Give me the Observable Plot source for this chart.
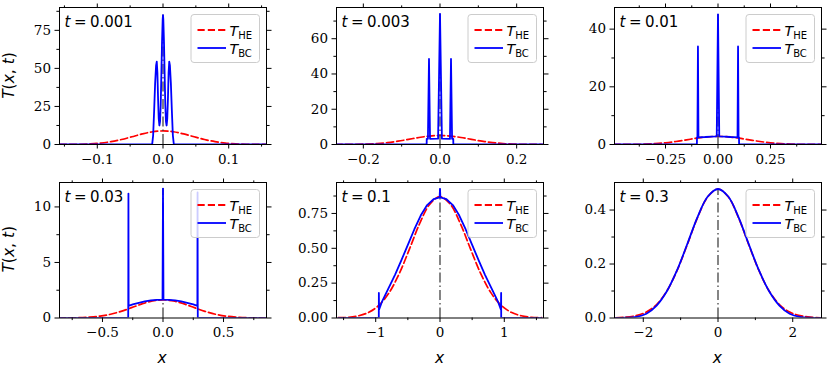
<!DOCTYPE html>
<html>
<head>
<meta charset="utf-8">
<script src="https://cdn.jsdelivr.net/npm/d3@7"></script>
<script src="https://cdn.jsdelivr.net/npm/@observablehq/plot@0.6"></script>
<style>
  body { margin: 0; background: #fff; }
  #chart { position: relative; width: 830px; height: 370px; overflow: hidden; background: #fff; }
  #chart > svg { position: absolute; }
  #chart [aria-label$="tick label"] text { font-family: "DejaVu Serif", serif !important; font-size: 13.5px !important; }
</style>
</head>
<body>
<div id="chart"></div>
<script>
// ---------------- DATA ----------------
const times = ["0.001", "0.003", "0.01", "0.03", "0.1", "0.3"];

// heat-equation curves T_HE (red dashed)
const heX1 = [-0.1581,-0.1423,-0.1265,-0.1107,-0.0949,-0.0791,-0.0632,-0.0474,-0.0316,-0.0158,0,0.0158,0.0316,0.0474,0.0632,0.0791,0.0949,0.1107,0.1265,0.1423,0.1581];
const heY1 = [0.02,0.06,0.16,0.42,0.94,1.87,3.27,5.07,6.93,8.36,8.9,8.36,6.93,5.07,3.27,1.87,0.94,0.42,0.16,0.06,0.02];
const heX2 = [-0.2739,-0.2465,-0.2191,-0.1917,-0.1643,-0.1369,-0.1095,-0.0822,-0.0548,-0.0274,0,0.0274,0.0548,0.0822,0.1095,0.1369,0.1643,0.1917,0.2191,0.2465,0.2739];
const heY2 = [0.01,0.03,0.09,0.24,0.54,1.07,1.88,2.91,3.97,4.79,5.1,4.79,3.97,2.91,1.88,1.07,0.54,0.24,0.09,0.03,0.01];
const heX3 = [-0.5,-0.45,-0.4,-0.35,-0.3,-0.25,-0.2,-0.15,-0.1,-0.05,0,0.05,0.1,0.15,0.2,0.25,0.3,0.35,0.4,0.45,0.5];
const heY3 = [0.01,0.02,0.05,0.13,0.30,0.59,1.04,1.61,2.20,2.65,2.82,2.65,2.20,1.61,1.04,0.59,0.30,0.13,0.05,0.02,0.01];
const heX4 = [-0.866,-0.7794,-0.6928,-0.6062,-0.5196,-0.433,-0.3464,-0.2598,-0.1732,-0.0866,0,0.0866,0.1732,0.2598,0.3464,0.433,0.5196,0.6062,0.6928,0.7794,0.866];
const heY4 = [0.0,0.01,0.03,0.08,0.17,0.34,0.60,0.93,1.27,1.53,1.63,1.53,1.27,0.93,0.60,0.34,0.17,0.08,0.03,0.01,0.0];
const heX5 = [-1.581,-1.423,-1.265,-1.107,-0.949,-0.791,-0.632,-0.474,-0.316,-0.158,0,0.158,0.316,0.474,0.632,0.791,0.949,1.107,1.265,1.423,1.581];
const heY5 = [0.002,0.005,0.016,0.041,0.092,0.182,0.320,0.496,0.678,0.817,0.87,0.817,0.678,0.496,0.320,0.182,0.092,0.041,0.016,0.005,0.002];
const heX6 = [-2.739,-2.465,-2.191,-1.917,-1.643,-1.369,-1.095,-0.822,-0.548,-0.274,0,0.274,0.548,0.822,1.095,1.369,1.643,1.917,2.191,2.465,2.739];
const heY6 = [0.001,0.003,0.009,0.022,0.050,0.100,0.176,0.272,0.372,0.449,0.478,0.449,0.372,0.272,0.176,0.100,0.050,0.022,0.009,0.003,0.001];

// ballistic-conduction curves T_BC (blue solid)
const bcX1 = [-0.1581,-0.0165,-0.015,-0.0135,-0.012,-0.0105,-0.0095,-0.0085,-0.0075,-0.0065,-0.0055,-0.0045,-0.0035,-0.0025,-0.0015,-0.0005,0,0.0005,0.0015,0.0025,0.0035,0.0045,0.0055,0.0065,0.0075,0.0085,0.0095,0.0105,0.012,0.0135,0.015,0.0165,0.1581];
const bcY1 = [0,0,6,22,40,52,54.5,47,30,17,12.5,15,26,46,67,82,85,82,67,46,26,15,12.5,17,30,47,54.5,52,40,22,6,0,0];
const bcX2 = [-0.2739,-0.0348,-0.0346,-0.0315,-0.0287,-0.026,-0.005,0,0.005,0.026,0.0287,0.0315,0.0346,0.0348,0.2739];
const bcY2 = [0,0,3.2,3.2,48.5,3.2,3.3,74,3.3,3.2,48.5,3.2,3.2,0,0];
const bcX3 = [-0.5,-0.1005,-0.1,-0.098,-0.0955,-0.093,-0.06,-0.03,-0.006,0,0.006,0.03,0.06,0.093,0.0955,0.098,0.1,0.1005,0.5];
const bcY3 = [0,0,2.5,2.5,34,2.5,2.6,2.75,2.85,45.1,2.85,2.75,2.6,2.5,34,2.5,2.5,0,0];
const bcX4 = [-0.866,-0.2875,-0.287,-0.2855,-0.284,-0.25,-0.2,-0.15,-0.1,-0.05,-0.004,0,0.004,0.05,0.1,0.15,0.2,0.25,0.284,0.2855,0.287,0.2875,0.866];
const bcY4 = [0,0,1.08,11.2,1.1,1.22,1.37,1.49,1.58,1.64,1.66,11.65,1.66,1.64,1.58,1.49,1.37,1.22,1.1,11.3,1.08,0,0];
const bcX5 = [-1.581,-0.952,-0.951,-0.948,-0.9,-0.8,-0.7,-0.6,-0.5,-0.4,-0.3,-0.2,-0.1,-0.006,0,0.006,0.1,0.2,0.3,0.4,0.5,0.6,0.7,0.8,0.9,0.948,0.951,0.952,1.581];
const bcY5 = [0,0,0.18,0.06,0.12,0.215,0.31,0.415,0.525,0.635,0.735,0.81,0.852,0.865,0.926,0.865,0.852,0.81,0.735,0.635,0.525,0.415,0.31,0.215,0.12,0.06,0.18,0,0];
const bcX6 = [-2.739,-2.465,-2.191,-1.917,-1.643,-1.369,-1.095,-0.822,-0.548,-0.274,0,0.274,0.548,0.822,1.095,1.369,1.643,1.917,2.191,2.465,2.739];
const bcY6 = [0,0.001,0.004,0.016,0.046,0.099,0.177,0.274,0.374,0.450,0.478,0.450,0.374,0.274,0.177,0.099,0.046,0.016,0.004,0.001,0];

// axis limits
const xLims = [0.1575, 0.27, 0.493, 0.855, 1.61, 2.77];
const yMaxes = [90, 77.7, 47.5, 12.2, 0.972, 0.502];

// ticks and tick labels
const xTicks = [[-0.1,0,0.1],[-0.2,0,0.2],[-0.25,0,0.25],[-0.5,0,0.5],[-1,0,1],[-2,0,2]];
const xTickLabels = [["−0.1","0.0","0.1"],["−0.2","0.0","0.2"],["−0.25","0.00","0.25"],["−0.5","0.0","0.5"],["−1","0","1"],["−2","0","2"]];
const xMinor = [[-0.15,-0.05,0.05,0.15],[-0.1,0.1],[-0.375,-0.125,0.125,0.375],[-0.75,-0.25,0.25,0.75],[-1.5,-0.5,0.5,1.5],[-1,1]];
const yTicks = [[0,25,50,75],[0,20,40,60],[0,20,40],[0,5,10],[0,0.25,0.5,0.75],[0,0.2,0.4]];
const yTickLabels = [["0","25","50","75"],["0","20","40","60"],["0","20","40"],["0","5","10"],["0.00","0.25","0.50","0.75"],["0.0","0.2","0.4"]];
const yMinor = [[12.5,37.5,62.5,87.5],[10,30,50,70],[10,30],[2.5,7.5],[0.125,0.375,0.625,0.875],[0.1,0.3]];

const centerX = 0; // dash-dot reference line position

// ---------------- LAYOUT ----------------
const colLeft = [58.5, 336.2, 613.8];
const colW = 207;
const rowTop = [7, 181.5];
const rowH = [137, 135.5];
const ml = 50, mr = 8, mt = 10, mb = 30;
const SERIF = "DejaVu Serif";

const heX = [heX1, heX2, heX3, heX4, heX5, heX6];
const heY = [heY1, heY2, heY3, heY4, heY5, heY6];
const bcX = [bcX1, bcX2, bcX3, bcX4, bcX5, bcX6];
const bcY = [bcY1, bcY2, bcY3, bcY4, bcY5, bcY6];

const RED = "#ff0000", BLUE = "#0000ff";
const root = document.getElementById("chart");

for (let i = 0; i < 6; i++) {
  const col = i % 3, row = Math.floor(i / 3);
  const W = colW, H = rowH[row];
  const he = heX[i].map((x, k) => ({x, y: heY[i][k]}));
  const bc = bcX[i].map((x, k) => ({x, y: bcY[i][k]}));
  const peak = d3.max(bcY[i]);
  const xt = xTicks[i], xl = xTickLabels[i], yt = yTicks[i], yl = yTickLabels[i];
  const lab = {fontFamily: SERIF, fontSize: 13.5, fill: "#000"};

  const svgEl = Plot.plot({
    width: W + ml + mr,
    height: H + mt + mb,
    marginLeft: ml, marginRight: mr, marginTop: mt, marginBottom: mb,
    x: {domain: [-xLims[i], xLims[i]], label: null},
    y: {domain: [0, yMaxes[i]], label: null},
    style: "font-family: 'DejaVu Serif', serif; font-size: 13.5px; color: #000; background: transparent; overflow: visible;",
    marks: [
      Plot.line(he, {x: "x", y: "y", stroke: RED, strokeWidth: 1.7, strokeDasharray: "7.2,3.1", curve: "catmull-rom", clip: true}),
      Plot.ruleX([{x: centerX, y2: peak}], {x: "x", y1: 0, y2: "y2", stroke: "#444", strokeWidth: 1.3, strokeDasharray: "10,3,1.5,3"}),
      Plot.line(bc, {x: "x", y: "y", stroke: BLUE, strokeWidth: 1.8, curve: i === 5 ? "catmull-rom" : "linear", clip: true}),
      Plot.axisX({ticks: xt, tickFormat: d => xl[xt.indexOf(d)], tickSize: 4.5, tickPadding: 5, label: null, ...lab}),
      Plot.axisX({ticks: xMinor[i], tickSize: 2.6, fill: "none", label: null}),
      Plot.axisX({anchor: "top", ticks: xt, tickSize: 4.5, fill: "none", label: null}),
      Plot.axisX({anchor: "top", ticks: xMinor[i], tickSize: 2.6, fill: "none", label: null}),
      Plot.axisY({ticks: yt, tickFormat: d => yl[yt.indexOf(d)], tickSize: 4.5, tickPadding: 4, label: null, ...lab}),
      Plot.axisY({ticks: yMinor[i], tickSize: 2.6, fill: "none", label: null}),
      Plot.axisY({anchor: "right", ticks: yt, tickSize: 4.5, fill: "none", label: null}),
      Plot.axisY({anchor: "right", ticks: yMinor[i], tickSize: 2.6, fill: "none", label: null}),
      Plot.frame({stroke: "#000", strokeWidth: 1})
    ]
  });
  svgEl.style.left = (colLeft[col] - ml) + "px";
  svgEl.style.top = (rowTop[row] - mt) + "px";
  root.appendChild(svgEl);

  const svg = d3.select(svgEl);
  // time label
  const tl = svg.append("text")
    .attr("x", ml + 5.5).attr("y", mt + 20).attr("text-anchor", "start")
    .attr("font-family", "DejaVu Sans").attr("font-size", 15).attr("fill", "#000");
  tl.append("tspan").attr("font-style", "italic").text("t");
  tl.append("tspan").attr("dx", 3.5).text("=");
  tl.append("tspan").attr("dx", 3.5).text(times[i]);

  // legend
  const lw = 68.5, lh = 48;
  const g = svg.append("g").attr("transform", `translate(${ml + W - 6.5 - lw},${mt + 7.5})`);
  g.append("rect").attr("width", lw).attr("height", lh).attr("rx", 3)
    .attr("fill", "#fff").attr("fill-opacity", 0.8).attr("stroke", "#cccccc").attr("stroke-width", 1);
  const entries = [
    {color: RED, dash: "7.2,3.1", sub: "HE", y: 15.5},
    {color: BLUE, dash: null, sub: "BC", y: 33.5}
  ];
  for (const e of entries) {
    g.append("line").attr("x1", 6.5).attr("x2", 35).attr("y1", e.y).attr("y2", e.y)
      .attr("stroke", e.color).attr("stroke-width", 1.8).attr("stroke-dasharray", e.dash);
    const tx = g.append("text").attr("x", 38.5).attr("y", e.y + 5.5).attr("text-anchor", "start")
      .attr("font-family", "DejaVu Sans").attr("font-size", 14.2).attr("fill", "#000");
    tx.append("tspan").attr("font-style", "italic").text("T");
    tx.append("tspan").attr("font-size", 10).attr("dy", 3).text(e.sub);
  }
}

// axis titles (overlay)
const ov = d3.select(root).append("svg")
  .attr("width", 830).attr("height", 370)
  .style("left", "0px").style("top", "0px").style("pointer-events", "none");
for (let r = 0; r < 2; r++) {
  const cy = rowTop[r] + rowH[r] / 2;
  const t = ov.append("text").attr("transform", `translate(14,${cy}) rotate(-90)`)
    .attr("text-anchor", "middle").attr("font-family", "DejaVu Sans").attr("font-size", 15.5).attr("fill", "#000");
  t.append("tspan").attr("font-style", "italic").text("T");
  t.append("tspan").text("(");
  t.append("tspan").attr("font-style", "italic").text("x");
  t.append("tspan").text(", ");
  t.append("tspan").attr("font-style", "italic").text("t");
  t.append("tspan").text(")");
}
for (let c = 0; c < 3; c++) {
  ov.append("text").attr("x", colLeft[c] + colW / 2).attr("y", 363)
    .attr("text-anchor", "middle").attr("font-family", "DejaVu Sans").attr("font-style", "italic")
    .attr("font-size", 15.5).attr("fill", "#000").text("x");
}
</script>
</body>
</html>
